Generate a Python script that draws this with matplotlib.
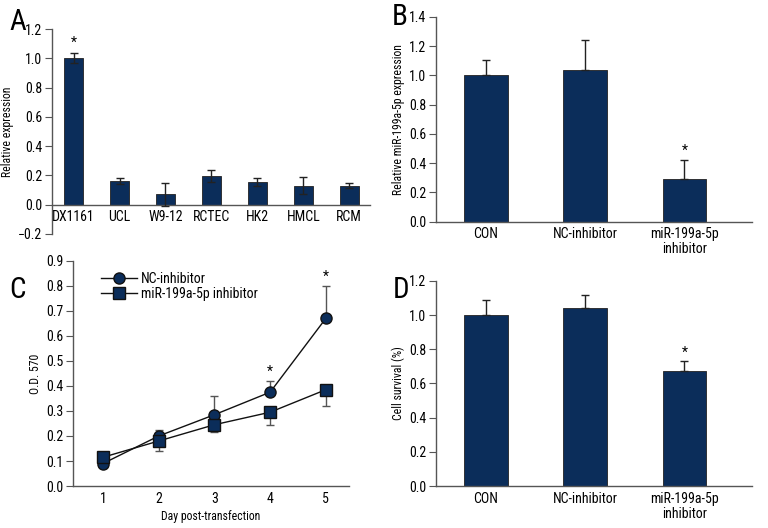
import matplotlib
matplotlib.use("Agg")
import matplotlib.pyplot as plt
from matplotlib import font_manager
import numpy as np

# ---- font choice: prefer a condensed sans if installed ----
_fl = font_manager.fontManager.ttflist
_names = {f.name for f in _fl}
FONT = None
for cand in ["Roboto Condensed", "Open Sans Condensed", "Liberation Sans Narrow", "Noto Sans Condensed",
             "DejaVu Sans Condensed", "Arial Narrow"]:
    if cand in _names:
        FONT = cand
        break
STRETCH = 'normal'
if FONT is None:
    if any(f.name == "DejaVu Sans" and str(f.stretch) in ("condensed", "semi-condensed", "500", "600")
           and f.style == 'normal' and f.weight in (400, 'normal') for f in _fl):
        FONT = "DejaVu Sans"
        STRETCH = 'condensed'
CONDENSED = FONT is not None
if FONT is None:
    FONT = "DejaVu Sans"
plt.rcParams['font.family'] = [FONT, 'DejaVu Sans']
plt.rcParams['font.stretch'] = STRETCH

# Panel A
a_cats = ["DX1161", "UCL", "W9-12", "RCTEC", "HK2", "HMCL", "RCM"]
a_vals = [1.00, 0.16, 0.07, 0.195, 0.155, 0.13, 0.13]
a_errs = [0.035, 0.02, 0.08, 0.04, 0.025, 0.06, 0.015]

# Panel B
b_cats = ["CON", "NC-inhibitor", "miR-199a-5p\ninhibitor"]
b_vals = [1.00, 1.035, 0.295]
b_errs = [0.105, 0.205, 0.125]

# Panel C
c_days = [1, 2, 3, 4, 5]
c_nc = [0.09, 0.20, 0.285, 0.375, 0.67]
c_nc_err = [0.01, 0.025, 0.075, 0.045, 0.13]
c_mir = [0.115, 0.18, 0.245, 0.295, 0.385]
c_mir_err = [0.01, 0.04, 0.03, 0.05, 0.065]

# Panel D
d_cats = ["CON", "NC-inhibitor", "miR-199a-5p\ninhibitor"]
d_vals = [1.00, 1.04, 0.67]
d_errs = [0.09, 0.08, 0.06]

NAVY = "#0b2d5a"
SPINE = "#555555"
TFS = 10 if CONDENSED else 8
LFS = 8.5 if CONDENSED else 7

fig = plt.figure(figsize=(7.68, 5.28), dpi=100)

def style(ax):
    for s in ['top', 'right']:
        ax.spines[s].set_visible(False)
    for s in ['left', 'bottom']:
        ax.spines[s].set_color(SPINE)
        ax.spines[s].set_linewidth(1.0)
    ax.tick_params(axis='y', direction='out', length=5, color=SPINE, labelsize=TFS, pad=2)
    ax.tick_params(axis='x', length=0, labelsize=TFS, pad=4)

# A
axA = fig.add_axes([0.0677, 0.557, 0.414, 0.388])
xa = np.arange(len(a_cats))
axA.bar(xa, a_vals, width=0.42, color=NAVY, edgecolor='#222222', linewidth=0.6, zorder=2)
axA.errorbar(xa, a_vals, yerr=a_errs, fmt='none', ecolor='#222222', elinewidth=1.0, capsize=3, zorder=3)
axA.set_ylim(-0.2, 1.2)
axA.set_xlim(-0.47, 6.45)
axA.set_yticks(np.arange(-0.2, 1.21, 0.2))
axA.set_yticklabels(["\u22120.2", "0.0", "0.2", "0.4", "0.6", "0.8", "1.0", "1.2"])
axA.set_xticks(xa)
axA.set_xticklabels(a_cats)
style(axA)
axA.spines['bottom'].set_position(('data', 0))
axA.set_ylabel("Relative expression", fontsize=LFS, labelpad=3)
axA.text(0, a_vals[0] + a_errs[0] + 0.02, "*", ha='center', va='bottom', fontsize=10)

# B
axB = fig.add_axes([0.568, 0.580, 0.411, 0.388])
xb = np.arange(len(b_cats))
axB.bar(xb, b_vals, width=0.44, color=NAVY, edgecolor='#222222', linewidth=0.6, zorder=2)
axB.errorbar(xb, b_vals, yerr=[[0]*3, b_errs], fmt='none', ecolor='#222222', elinewidth=1.0, capsize=3, zorder=3)
axB.set_ylim(0, 1.4)
axB.set_xlim(-0.5, 2.68)
axB.set_yticks(np.arange(0, 1.41, 0.2))
axB.set_yticklabels([f"{v:.1f}" for v in np.arange(0, 1.41, 0.2)])
axB.set_xticks(xb)
axB.set_xticklabels(b_cats, fontsize=TFS, linespacing=1.1)
style(axB)
axB.set_ylabel("Relative miR-199a-5p expression", fontsize=LFS, labelpad=3)
axB.text(2, b_vals[2] + b_errs[2] + 0.02, "*", ha='center', va='bottom', fontsize=10)

# C
axC = fig.add_axes([0.095, 0.0795, 0.359, 0.4265])
axC.errorbar(c_days, c_nc, yerr=[[0]*5, c_nc_err], fmt='none', ecolor='#555555', elinewidth=1.0, capsize=3, zorder=2)
axC.errorbar(c_days, c_mir, yerr=[c_mir_err, [0]*5], fmt='none', ecolor='#555555', elinewidth=1.0, capsize=3, zorder=2)
axC.plot(c_days, c_nc, '-o', color='#111111', lw=1.0, markerfacecolor=NAVY, markeredgecolor='#111111',
         markersize=8, label="NC-inhibitor", zorder=3)
axC.plot(c_days, c_mir, '-s', color='#111111', lw=1.0, markerfacecolor=NAVY, markeredgecolor='#111111',
         markersize=8, label="miR-199a-5p inhibitor", zorder=3)
axC.set_ylim(0, 0.9)
axC.set_xlim(0.46, 5.41)
axC.set_yticks(np.arange(0, 0.91, 0.1))
axC.set_yticklabels([f"{v:.1f}" for v in np.arange(0, 0.91, 0.1)])
axC.set_xticks(c_days)
style(axC)
axC.set_ylabel("O.D. 570", fontsize=LFS, labelpad=3)
axC.set_xlabel("Day post-transfection", fontsize=LFS, labelpad=3)
axC.text(4, c_nc[3] + c_nc_err[3] + 0.01, "*", ha='center', va='bottom', fontsize=10)
axC.text(5, c_nc[4] + c_nc_err[4] + 0.01, "*", ha='center', va='bottom', fontsize=10)
axC.legend(loc='upper left', bbox_to_anchor=(0.08, 0.975), frameon=False, fontsize=TFS,
           handlelength=2.6, handletextpad=0.3, labelspacing=0.05, borderaxespad=0)

# D
axD = fig.add_axes([0.568, 0.0795, 0.411, 0.3885])
xd = np.arange(len(d_cats))
axD.bar(xd, d_vals, width=0.44, color=NAVY, edgecolor='#222222', linewidth=0.6, zorder=2)
axD.errorbar(xd, d_vals, yerr=[[0]*3, d_errs], fmt='none', ecolor='#222222', elinewidth=1.0, capsize=3, zorder=3)
axD.set_ylim(0, 1.2)
axD.set_xlim(-0.5, 2.68)
axD.set_yticks(np.arange(0, 1.21, 0.2))
axD.set_yticklabels([f"{v:.1f}" for v in np.arange(0, 1.21, 0.2)])
axD.set_xticks(xd)
axD.set_xticklabels(d_cats, fontsize=TFS, linespacing=1.1)
style(axD)
axD.set_ylabel("Cell survival (%)", fontsize=LFS, labelpad=3)
axD.text(2, d_vals[2] + d_errs[2] + 0.01, "*", ha='center', va='bottom', fontsize=10)

# Panel letters
LET = 21 if CONDENSED else 15
for lab, x, y in [("A", 0.012, 0.958), ("B", 0.510, 0.968), ("C", 0.012, 0.45), ("D", 0.512, 0.45)]:
    fig.text(x, y, lab, fontsize=LET, ha='left', va='center')

fig.savefig("out.png", dpi=100)
